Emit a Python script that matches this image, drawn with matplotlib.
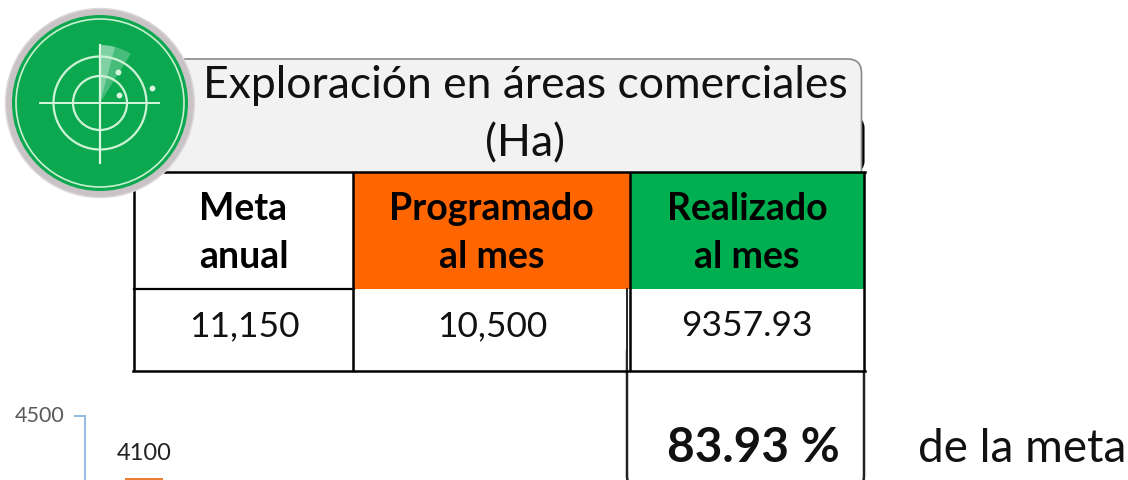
"""
Exploracion en areas comerciales: resumen de metas con grafica de barras recortada.
"""

import matplotlib
matplotlib.use("Agg")
import matplotlib.pyplot as plt
from matplotlib.patches import Circle, FancyBboxPatch, Rectangle, Wedge
from matplotlib.transforms import ScaledTranslation

plt.rcParams["font.family"] = ["Lato", "DejaVu Sans"]

TITLE = "Exploración en áreas comerciales\n(Ha)"
HEADERS = ["Meta\nanual", "Programado\nal mes", "Realizado\nal mes"]
VALUES = ["11,150", "10,500", "9357.93"]
PERCENT = "83.93 %"
PERCENT_NOTE = "de la meta"

BAR_VALUES = [4100]
BAR_LABELS = ["4100"]
Y_TICKS = [4500]

ORANGE = "#FF6600"
GREEN = "#00AF50"
ICON_GREEN = "#0BA84F"
BAR_ORANGE = "#ED7D31"
AXIS_BLUE = "#7FB0E0"

COL_X = [134, 353, 630, 864]
ROW_Y = [172, 289, 371]

fig = plt.figure(figsize=(11.28, 4.8), dpi=100)
ax = fig.add_axes([0, 0, 1, 1])
ax.set_xlim(0, 1128)
ax.set_ylim(480, 0)
ax.axis("off")

# title box
ax.add_patch(FancyBboxPatch((172, 118), 691.5, 53, boxstyle="round,pad=0,rounding_size=10",
                            fc="black", ec="black", lw=1.5, zorder=1))
ax.add_patch(FancyBboxPatch((150, 59), 711.5, 135, boxstyle="round,pad=0,rounding_size=14",
                            fc="#F2F2F2", ec="#8A8A8A", lw=1.2, zorder=2))
ax.add_patch(Rectangle((0, 172), 1128, 30, fc="white", ec="none", zorder=2.5))
ax.text(525, 115, TITLE, ha="center", va="center", fontsize=32, linespacing=1.52,
        color="#111111", zorder=4)

# percent box, cut by the bottom edge; its top is hidden behind the table row
ax.add_patch(FancyBboxPatch((627, 340), 237, 148, boxstyle="round,pad=0,rounding_size=12",
                            fc="white", ec="#222222", lw=1.8, zorder=1))
ax.add_patch(Rectangle((COL_X[2] - 4, ROW_Y[1]), COL_X[3] - COL_X[2] + 8, ROW_Y[2] - ROW_Y[1],
                       fc="white", ec="none", zorder=2.5))
ax.text(753, 448, PERCENT, ha="center", va="center", fontsize=34.4, fontweight="bold",
        color="#111111", zorder=4)
ax.text(1022, 449, PERCENT_NOTE, ha="center", va="center", fontsize=33, color="#111111", zorder=4)

# table
for i, head in enumerate(HEADERS):
    x0, x1 = COL_X[i], COL_X[i + 1]
    fill = [None, ORANGE, GREEN][i]
    if fill:
        ax.add_patch(Rectangle((x0, ROW_Y[0]), x1 - x0, ROW_Y[1] - ROW_Y[0], fc=fill, ec="none", zorder=3))
    ax.text((x0 + x1) / 2, 233, head, ha="center", va="center", fontsize=27,
            fontweight="bold", linespacing=1.49, color="black", zorder=4)
    ax.text((x0 + x1) / 2 + [1, 1, 0][i], 326, VALUES[i], ha="center", va="center", fontsize=25.5,
            color="#111111", zorder=4)

for x in COL_X:
    ax.plot([x, x], [ROW_Y[0], ROW_Y[2]], color="black", lw=1.8, zorder=5, solid_capstyle="butt")
ax.plot([627, 627], [ROW_Y[1], ROW_Y[2]], color="black", lw=1.2, zorder=5)
ax.plot([COL_X[0] - 1, COL_X[-1] + 1], [ROW_Y[0], ROW_Y[0]], color="black", lw=1.8, zorder=5)
ax.plot([COL_X[0] - 1, COL_X[-1] + 1], [ROW_Y[2], ROW_Y[2]], color="black", lw=1.8, zorder=5)
ax.plot([COL_X[0], 354], [ROW_Y[1], ROW_Y[1]], color="black", lw=1.6, zorder=5)

# radar icon
cx, cy = 100, 103
ax.add_patch(Circle((cx, cy), 94.5, fc="#C9C3C5", ec="#DDD9DA", lw=1, zorder=6))
ax.add_patch(Circle((cx, cy), 88, fc=ICON_GREEN, ec="none", zorder=7))
ax.add_patch(Circle((cx, cy), 84, fc="none", ec="#C8F0D0", lw=1.2, zorder=8))
ax.add_patch(Wedge((cx, cy), 58, 270, 302, fc="white", ec="none", alpha=0.25, zorder=8))
ax.add_patch(Wedge((cx, cy), 58, 270, 285, fc="white", ec="none", alpha=0.3, zorder=8))
for r in [46.5, 27]:
    ax.add_patch(Circle((cx, cy), r, fc="none", ec="#CDF2D6", lw=1.6, zorder=9))
ax.plot([40, 159], [cy, cy], color="#D8F5DE", lw=1.4, zorder=9)
ax.plot([cx, cx], [45, 163], color="#D8F5DE", lw=1.6, zorder=9)
ax.plot([118, 152, 119], [72, 88, 95], ls="none", marker="o", ms=3.2, color="#D8F5DE", zorder=9)

# clipped bar chart: 4500 sits at y=415.5, the 4100 bar top at y=478.5
chart = fig.add_axes([85 / 1128, 0, 100 / 1128, 64.5 / 480])
chart.patch.set_alpha(0)
chart.set_xlim(0, 100)
chart.set_ylim(4090, 4500)
chart.bar([59], BAR_VALUES, width=38, color=BAR_ORANGE)
chart.text(59.5, BAR_VALUES[0] + 160, BAR_LABELS[0], ha="center", va="center", fontsize=17,
           color="#222222", clip_on=False)
chart.set_yticks(Y_TICKS)
chart.set_yticklabels([str(t) for t in Y_TICKS], fontsize=15.5, color="#595959")
chart.set_xticks([])
chart.tick_params(axis="y", color=AXIS_BLUE, length=8, width=1.2, pad=7)
for side in ["top", "right", "bottom"]:
    chart.spines[side].set_visible(False)
chart.spines["left"].set_color(AXIS_BLUE)
chart.spines["left"].set_linewidth(1.2)
for lab in chart.get_yticklabels():
    lab.set_clip_on(False)
    lab.set_transform(lab.get_transform() + ScaledTranslation(0, 2 / 100, fig.dpi_scale_trans))

fig.savefig("out.png", dpi=100, facecolor="white")
